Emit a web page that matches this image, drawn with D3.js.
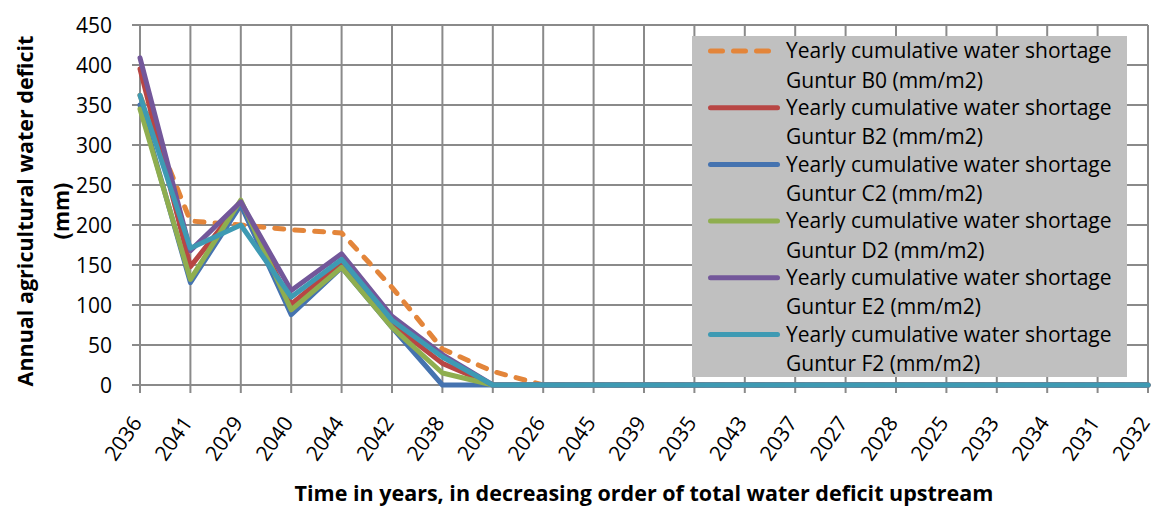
<!DOCTYPE html>
<html>
<head>
<meta charset="utf-8">
<script src="https://cdn.jsdelivr.net/npm/d3@7"></script>
<style>
  html, body { margin: 0; padding: 0; background: #fff; }
  svg { display: block; }
</style>
</head>
<body>
<svg id="chart" width="1155" height="508"></svg>
<script>
// Years, sorted by decreasing total upstream water deficit
const years = ["2036","2041","2029","2040","2044","2042","2038","2030","2026","2045","2039",
               "2035","2043","2037","2027","2028","2025","2033","2034","2031","2032"];

// Yearly cumulative water shortage, Guntur, per scenario (mm/m2)
const gunturB0 = [362, 205, 200, 194, 190, 122, 45, 17, 0, 0, 0, 0, 0, 0, 0, 0, 0, 0, 0, 0, 0];
const gunturB2 = [395, 148, 228, 101, 153, 76, 27, 0, 0, 0, 0, 0, 0, 0, 0, 0, 0, 0, 0, 0, 0];
const gunturC2 = [350, 128, 225, 88, 147, 72, 0, 0, 0, 0, 0, 0, 0, 0, 0, 0, 0, 0, 0, 0, 0];
const gunturD2 = [345, 132, 231, 94, 147, 72, 15, 0, 0, 0, 0, 0, 0, 0, 0, 0, 0, 0, 0, 0, 0];
const gunturE2 = [409, 168, 229, 118, 164, 86, 38, 0, 0, 0, 0, 0, 0, 0, 0, 0, 0, 0, 0, 0, 0];
const gunturF2 = [362, 171, 200, 110, 157, 81, 35, 0, 0, 0, 0, 0, 0, 0, 0, 0, 0, 0, 0, 0, 0];

const yTicks = [0, 50, 100, 150, 200, 250, 300, 350, 400, 450];

const seriesNames = [
  "Guntur B0 (mm/m2)", "Guntur B2 (mm/m2)", "Guntur C2 (mm/m2)",
  "Guntur D2 (mm/m2)", "Guntur E2 (mm/m2)", "Guntur F2 (mm/m2)"
];
const seriesValues = [gunturB0, gunturB2, gunturC2, gunturD2, gunturE2, gunturF2];
const seriesColors = ["#E3853A", "#B84644", "#4573B0", "#8FAE4F", "#73579A", "#3E9AB3"];
const seriesDash = ["9,11", null, null, null, null, null];

const series = seriesNames.map((name, i) => ({
  name, values: seriesValues[i], color: seriesColors[i], dash: seriesDash[i]
}));

const svg = d3.select("#chart");
const plot = { left: 140, right: 1148, top: 25, bottom: 385 };

const x = d3.scalePoint().domain(years).range([plot.left, plot.right]);
const y = d3.scaleLinear().domain([0, 450]).range([plot.bottom, plot.top]);

const gridColor = "#8a8a8a";
const font = "'Open Sans', 'DejaVu Sans', sans-serif";

// Horizontal gridlines with outside ticks
svg.append("g")
  .selectAll("line")
  .data(yTicks)
  .join("line")
  .attr("x1", plot.left - 8).attr("x2", plot.right)
  .attr("y1", d => y(d)).attr("y2", d => y(d))
  .attr("stroke", gridColor).attr("stroke-width", 2);

// Vertical gridlines with outside ticks
svg.append("g")
  .selectAll("line")
  .data(years)
  .join("line")
  .attr("x1", d => x(d)).attr("x2", d => x(d))
  .attr("y1", plot.top).attr("y2", plot.bottom + 8)
  .attr("stroke", gridColor).attr("stroke-width", 2);

// Y tick labels
svg.append("g")
  .selectAll("text")
  .data(yTicks)
  .join("text")
  .attr("x", 112)
  .attr("y", d => y(d) + 7.5)
  .attr("text-anchor", "end")
  .attr("font-family", font)
  .attr("font-size", 21)
  .attr("fill", "#000")
  .text(d => d);

// X tick labels, rotated
svg.append("g")
  .selectAll("text")
  .data(years)
  .join("text")
  .attr("transform", d => `translate(${x(d) + 3},${423}) rotate(-55)`)
  .attr("text-anchor", "end")
  .attr("font-family", font)
  .attr("font-size", 21)
  .attr("fill", "#000")
  .text(d => d);

// Series lines
const line = d3.line()
  .x((d, i) => x(years[i]))
  .y(d => y(d));

svg.append("g")
  .selectAll("path")
  .data(series)
  .join("path")
  .attr("d", d => line(d.values))
  .attr("fill", "none")
  .attr("stroke", d => d.color)
  .attr("stroke-width", 5)
  .attr("stroke-linejoin", "round")
  .attr("stroke-linecap", "round")
  .attr("stroke-dasharray", d => d.dash);

// Legend
const legend = svg.append("g");
legend.append("rect")
  .attr("x", 692).attr("y", 36)
  .attr("width", 435).attr("height", 341)
  .attr("fill", "#c0c0c0");

const entry = legend.selectAll("g.entry")
  .data(series)
  .join("g")
  .attr("class", "entry")
  .attr("transform", (d, i) => `translate(0,${51 + i * 56.7})`);

entry.append("line")
  .attr("x1", 710.5).attr("x2", 777.5)
  .attr("y1", 0).attr("y2", 0)
  .attr("stroke", d => d.color)
  .attr("stroke-width", 5)
  .attr("stroke-linecap", "round")
  .attr("stroke-dasharray", d => d.dash ? "12,11" : null);

entry.append("text")
  .attr("x", 786).attr("y", 7.3)
  .attr("font-family", font).attr("font-size", 21).attr("fill", "#000")
  .text("Yearly cumulative water shortage");

entry.append("text")
  .attr("x", 786).attr("y", 36.7)
  .attr("font-family", font).attr("font-size", 21).attr("fill", "#000")
  .text(d => d.name);

// Axis titles
svg.append("text")
  .attr("transform", "translate(33,211) rotate(-90)")
  .attr("text-anchor", "middle")
  .attr("font-family", font).attr("font-weight", "bold").attr("font-size", 21.5)
  .text("Annual agricultural water deficit");

svg.append("text")
  .attr("transform", "translate(69,211) rotate(-90)")
  .attr("text-anchor", "middle")
  .attr("font-family", font).attr("font-weight", "bold").attr("font-size", 21.5)
  .text("(mm)");

svg.append("text")
  .attr("x", (plot.left + plot.right) / 2)
  .attr("y", 501)
  .attr("text-anchor", "middle")
  .attr("font-family", font).attr("font-weight", "bold").attr("font-size", 21.5)
  .text("Time in years, in decreasing order of total water deficit upstream");
</script>
</body>
</html>
